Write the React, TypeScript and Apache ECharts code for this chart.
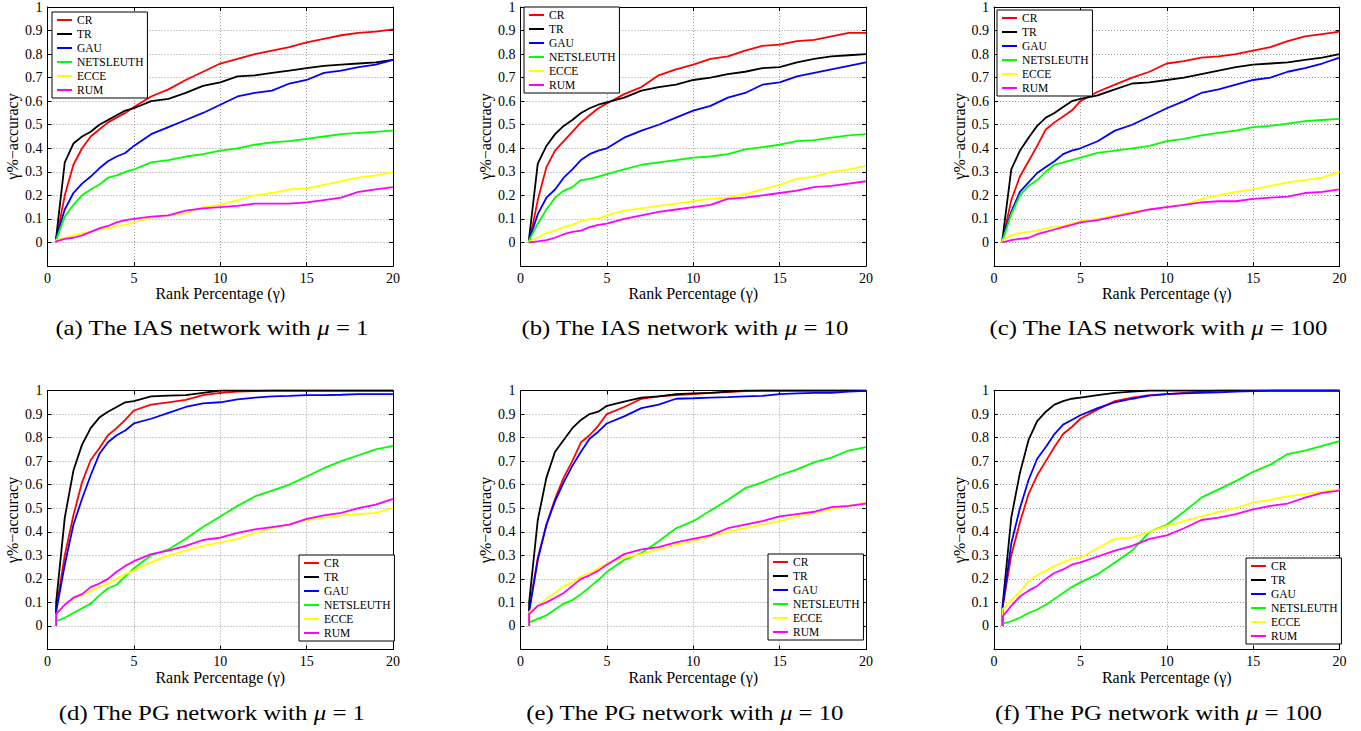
import React, { useEffect, useRef } from "react";
import * as echarts from "echarts";

// ---------- data ----------
const METHODS = ["CR", "TR", "GAU", "NETSLEUTH", "ECCE", "RUM"];
const COLORS = ["#ff0000", "#000000", "#0000ff", "#00ff00", "#ffff00", "#ff00ff"];
const X_TICKS = [0, 5, 10, 15, 20];
const Y_TICKS = [0, 0.1, 0.2, 0.3, 0.4, 0.5, 0.6, 0.7, 0.8, 0.9, 1];

// rank percentage (γ) sample points
const RANK_PCT = [0.5, 0.5, 1, 1.5, 2, 2.5, 3, 3.5, 4, 4.5, 5, 6, 7, 8, 9, 10, 11, 12, 13, 14, 15, 16, 17, 18, 19, 20];

// (a) IAS, mu = 1
const IAS1_CR = [0, 0.01, 0.2, 0.33, 0.40, 0.45, 0.48, 0.51, 0.53, 0.55, 0.575, 0.62, 0.65, 0.69, 0.725, 0.76, 0.78, 0.80, 0.815, 0.83, 0.85, 0.865, 0.88, 0.89, 0.895, 0.905];
const IAS1_TR = [0, 0.02, 0.34, 0.42, 0.45, 0.47, 0.50, 0.52, 0.54, 0.56, 0.57, 0.60, 0.61, 0.635, 0.665, 0.68, 0.705, 0.71, 0.72, 0.73, 0.74, 0.75, 0.755, 0.76, 0.765, 0.775];
const IAS1_GAU = [0, 0.02, 0.14, 0.21, 0.25, 0.28, 0.315, 0.345, 0.365, 0.38, 0.41, 0.46, 0.49, 0.52, 0.55, 0.585, 0.62, 0.635, 0.645, 0.675, 0.69, 0.72, 0.73, 0.745, 0.755, 0.775];
const IAS1_NET = [0, 0.01, 0.11, 0.16, 0.20, 0.225, 0.245, 0.275, 0.285, 0.30, 0.31, 0.34, 0.35, 0.365, 0.375, 0.39, 0.40, 0.415, 0.425, 0.43, 0.44, 0.45, 0.46, 0.465, 0.47, 0.475];
const IAS1_ECCE = [0, 0.01, 0.02, 0.03, 0.04, 0.045, 0.055, 0.06, 0.07, 0.075, 0.085, 0.105, 0.115, 0.125, 0.15, 0.16, 0.18, 0.20, 0.21, 0.225, 0.23, 0.245, 0.26, 0.275, 0.285, 0.30];
const IAS1_RUM = [0, 0.005, 0.015, 0.02, 0.03, 0.045, 0.06, 0.07, 0.085, 0.095, 0.10, 0.11, 0.115, 0.135, 0.145, 0.15, 0.155, 0.165, 0.165, 0.165, 0.17, 0.18, 0.19, 0.215, 0.225, 0.235];

// (b) IAS, mu = 10
const IAS10_CR = [0, 0.0, 0.18, 0.32, 0.39, 0.43, 0.47, 0.51, 0.54, 0.57, 0.59, 0.63, 0.66, 0.71, 0.735, 0.755, 0.78, 0.79, 0.815, 0.835, 0.84, 0.855, 0.86, 0.875, 0.89, 0.89];
const IAS10_TR = [0, 0.02, 0.335, 0.41, 0.46, 0.495, 0.52, 0.55, 0.57, 0.585, 0.595, 0.615, 0.645, 0.66, 0.67, 0.69, 0.70, 0.715, 0.725, 0.74, 0.745, 0.765, 0.78, 0.79, 0.795, 0.80];
const IAS10_GAU = [0, 0.01, 0.12, 0.19, 0.225, 0.275, 0.31, 0.35, 0.375, 0.39, 0.40, 0.445, 0.475, 0.50, 0.53, 0.56, 0.58, 0.615, 0.635, 0.67, 0.68, 0.705, 0.72, 0.735, 0.75, 0.765];
const IAS10_NET = [0, 0.01, 0.08, 0.14, 0.19, 0.22, 0.235, 0.265, 0.27, 0.28, 0.29, 0.31, 0.33, 0.34, 0.35, 0.36, 0.365, 0.375, 0.395, 0.405, 0.415, 0.43, 0.435, 0.445, 0.455, 0.46];
const IAS10_ECCE = [0, 0.005, 0.02, 0.04, 0.05, 0.065, 0.075, 0.09, 0.10, 0.10, 0.115, 0.135, 0.145, 0.155, 0.165, 0.175, 0.185, 0.19, 0.205, 0.225, 0.245, 0.27, 0.28, 0.30, 0.31, 0.325];
const IAS10_RUM = [0, 0.0, 0.005, 0.01, 0.02, 0.035, 0.045, 0.05, 0.065, 0.075, 0.08, 0.10, 0.115, 0.13, 0.14, 0.15, 0.16, 0.185, 0.19, 0.20, 0.21, 0.22, 0.235, 0.24, 0.25, 0.26];

// (c) IAS, mu = 100
const IAS100_CR = [0, 0.01, 0.18, 0.28, 0.345, 0.41, 0.48, 0.51, 0.535, 0.56, 0.60, 0.64, 0.67, 0.70, 0.725, 0.76, 0.77, 0.785, 0.79, 0.80, 0.815, 0.83, 0.855, 0.875, 0.885, 0.895];
const IAS100_TR = [0, 0.02, 0.31, 0.39, 0.445, 0.495, 0.53, 0.55, 0.575, 0.60, 0.61, 0.625, 0.65, 0.675, 0.68, 0.69, 0.70, 0.715, 0.73, 0.745, 0.755, 0.76, 0.765, 0.775, 0.785, 0.80];
const IAS100_GAU = [0, 0.02, 0.13, 0.215, 0.255, 0.295, 0.32, 0.345, 0.375, 0.39, 0.40, 0.43, 0.475, 0.50, 0.535, 0.57, 0.60, 0.635, 0.65, 0.67, 0.69, 0.70, 0.725, 0.74, 0.76, 0.785];
const IAS100_NET = [0, 0.01, 0.12, 0.20, 0.24, 0.265, 0.30, 0.33, 0.34, 0.35, 0.36, 0.38, 0.39, 0.40, 0.41, 0.43, 0.44, 0.455, 0.465, 0.475, 0.49, 0.495, 0.505, 0.515, 0.52, 0.525];
const IAS100_ECCE = [0, 0.01, 0.03, 0.04, 0.045, 0.05, 0.06, 0.065, 0.07, 0.08, 0.09, 0.10, 0.115, 0.13, 0.14, 0.15, 0.16, 0.185, 0.20, 0.215, 0.225, 0.24, 0.255, 0.265, 0.275, 0.30];
const IAS100_RUM = [0, 0.0, 0.01, 0.015, 0.02, 0.035, 0.045, 0.055, 0.065, 0.075, 0.085, 0.095, 0.11, 0.125, 0.14, 0.15, 0.16, 0.17, 0.175, 0.175, 0.185, 0.19, 0.195, 0.21, 0.215, 0.225];

// (d) PG, mu = 1
const PG1_CR = [0, 0.07, 0.30, 0.47, 0.61, 0.705, 0.755, 0.81, 0.84, 0.875, 0.915, 0.94, 0.95, 0.96, 0.98, 0.99, 0.995, 0.997, 1, 1, 1, 1, 1, 1, 1, 1];
const PG1_TR = [0, 0.10, 0.46, 0.66, 0.77, 0.84, 0.885, 0.91, 0.93, 0.95, 0.955, 0.975, 0.978, 0.98, 0.99, 1, 1, 1, 1, 1, 1, 1, 1, 1, 1, 1];
const PG1_GAU = [0, 0.06, 0.26, 0.43, 0.54, 0.64, 0.73, 0.78, 0.81, 0.83, 0.86, 0.88, 0.905, 0.93, 0.945, 0.95, 0.962, 0.97, 0.975, 0.977, 0.98, 0.98, 0.982, 0.985, 0.985, 0.985];
const PG1_NET = [0, 0.02, 0.035, 0.055, 0.075, 0.095, 0.13, 0.16, 0.175, 0.21, 0.245, 0.30, 0.325, 0.37, 0.42, 0.465, 0.51, 0.55, 0.575, 0.60, 0.635, 0.67, 0.70, 0.725, 0.75, 0.765];
const PG1_ECCE = [0, 0.05, 0.09, 0.115, 0.13, 0.15, 0.165, 0.18, 0.20, 0.22, 0.235, 0.27, 0.30, 0.32, 0.34, 0.355, 0.37, 0.395, 0.415, 0.43, 0.45, 0.46, 0.47, 0.475, 0.48, 0.50];
const PG1_RUM = [0, 0.05, 0.09, 0.12, 0.135, 0.165, 0.18, 0.20, 0.23, 0.255, 0.275, 0.305, 0.32, 0.34, 0.365, 0.375, 0.395, 0.41, 0.42, 0.43, 0.455, 0.47, 0.48, 0.50, 0.515, 0.54];

// (e) PG, mu = 10
const PG10_CR = [0, 0.07, 0.29, 0.43, 0.54, 0.63, 0.70, 0.78, 0.81, 0.85, 0.90, 0.93, 0.965, 0.975, 0.98, 0.985, 0.99, 0.993, 0.997, 1, 1, 1, 1, 1, 1, 1];
const PG10_TR = [0, 0.10, 0.45, 0.63, 0.74, 0.79, 0.84, 0.875, 0.90, 0.91, 0.935, 0.953, 0.97, 0.975, 0.985, 0.988, 0.99, 0.995, 1, 1, 1, 1, 1, 1, 1, 1];
const PG10_GAU = [0, 0.06, 0.28, 0.43, 0.53, 0.61, 0.68, 0.74, 0.795, 0.825, 0.86, 0.89, 0.925, 0.94, 0.965, 0.967, 0.97, 0.972, 0.975, 0.977, 0.985, 0.988, 0.99, 0.99, 0.995, 0.998];
const PG10_NET = [0, 0.015, 0.03, 0.045, 0.07, 0.095, 0.11, 0.135, 0.165, 0.195, 0.23, 0.28, 0.31, 0.36, 0.415, 0.445, 0.49, 0.535, 0.585, 0.61, 0.64, 0.665, 0.695, 0.715, 0.745, 0.76];
const PG10_ECCE = [0, 0.06, 0.085, 0.115, 0.14, 0.17, 0.185, 0.21, 0.225, 0.245, 0.265, 0.29, 0.305, 0.325, 0.345, 0.36, 0.38, 0.40, 0.415, 0.43, 0.445, 0.465, 0.48, 0.495, 0.51, 0.525];
const PG10_RUM = [0, 0.05, 0.085, 0.10, 0.12, 0.14, 0.17, 0.20, 0.215, 0.235, 0.26, 0.305, 0.325, 0.335, 0.355, 0.37, 0.385, 0.415, 0.43, 0.445, 0.465, 0.475, 0.485, 0.505, 0.51, 0.52];

// (f) PG, mu = 100
const PG100_CR = [0, 0.08, 0.30, 0.44, 0.56, 0.64, 0.70, 0.76, 0.815, 0.845, 0.88, 0.92, 0.955, 0.97, 0.98, 0.985, 0.99, 0.995, 1, 1, 1, 1, 1, 1, 1, 1];
const PG100_TR = [0, 0.09, 0.46, 0.65, 0.79, 0.87, 0.91, 0.94, 0.955, 0.965, 0.97, 0.98, 0.99, 0.995, 1, 1, 1, 1, 1, 1, 1, 1, 1, 1, 1, 1];
const PG100_GAU = [0, 0.08, 0.35, 0.50, 0.62, 0.71, 0.76, 0.815, 0.855, 0.875, 0.895, 0.925, 0.95, 0.965, 0.978, 0.985, 0.988, 0.99, 0.992, 0.995, 0.997, 1, 1, 1, 1, 1];
const PG100_NET = [0, 0.01, 0.02, 0.035, 0.055, 0.07, 0.09, 0.115, 0.14, 0.165, 0.185, 0.22, 0.27, 0.32, 0.40, 0.43, 0.485, 0.545, 0.58, 0.615, 0.655, 0.685, 0.73, 0.745, 0.765, 0.785];
const PG100_ECCE = [0, 0.07, 0.11, 0.145, 0.19, 0.215, 0.235, 0.255, 0.27, 0.285, 0.29, 0.33, 0.37, 0.375, 0.40, 0.425, 0.445, 0.465, 0.485, 0.50, 0.525, 0.535, 0.55, 0.56, 0.57, 0.58];
const PG100_RUM = [0, 0.04, 0.085, 0.125, 0.15, 0.17, 0.20, 0.225, 0.24, 0.26, 0.27, 0.295, 0.32, 0.34, 0.37, 0.385, 0.415, 0.45, 0.46, 0.475, 0.495, 0.51, 0.52, 0.545, 0.565, 0.575];

const CAPTION_PREFIX = ["(a) The IAS network with ", "(b) The IAS network with ", "(c) The IAS network with ", "(d) The PG network with ", "(e) The PG network with ", "(f) The PG network with "];
const CAPTION_MU = ["1", "10", "100", "1", "10", "100"];

const PANEL_DATA = [
  [IAS1_CR, IAS1_TR, IAS1_GAU, IAS1_NET, IAS1_ECCE, IAS1_RUM],
  [IAS10_CR, IAS10_TR, IAS10_GAU, IAS10_NET, IAS10_ECCE, IAS10_RUM],
  [IAS100_CR, IAS100_TR, IAS100_GAU, IAS100_NET, IAS100_ECCE, IAS100_RUM],
  [PG1_CR, PG1_TR, PG1_GAU, PG1_NET, PG1_ECCE, PG1_RUM],
  [PG10_CR, PG10_TR, PG10_GAU, PG10_NET, PG10_ECCE, PG10_RUM],
  [PG100_CR, PG100_TR, PG100_GAU, PG100_NET, PG100_ECCE, PG100_RUM],
];

// ---------- layout ----------
const COL_LEFT = [47.5, 520.5, 994];
const ROW_TOP = [7, 390.5];
const PLOT_W = 345.5;
const PLOT_H = 259;
const LEGEND_POS = [
  { left: 52, top: 12 },
  { left: 524, top: 7 },
  { left: 997, top: 10 },
  { left: 299, top: 555 },
  { left: 768, top: 554 },
  { left: 1246, top: 558 },
];
const CAPTION_Y = [328, 713];
const SERIF = "Liberation Serif";

function buildOption() {
  const grids: any[] = [];
  const xAxes: any[] = [];
  const yAxes: any[] = [];
  const series: any[] = [];
  const legends: any[] = [];
  const graphics: any[] = [];

  for (let p = 0; p < 6; p++) {
    const col = p % 3;
    const row = Math.floor(p / 3);
    const left = COL_LEFT[col];
    const top = ROW_TOP[row];
    grids.push({ left, top, width: PLOT_W, height: PLOT_H, containLabel: false });

    const axisLine = { show: true, onZero: false, lineStyle: { color: "#000", width: 1 } };
    const axisTick = { show: true, inside: true, length: 4, lineStyle: { color: "#000", width: 1 } };
    const grid = { show: true, lineStyle: { color: "#9a9a9a", width: 1, type: [1, 2] } };

    xAxes.push({
      type: "value",
      gridIndex: p,
      position: "bottom",
      min: X_TICKS[0],
      max: X_TICKS[X_TICKS.length - 1],
      interval: X_TICKS[1] - X_TICKS[0],
      axisLine,
      axisTick,
      splitLine: grid,
      axisLabel: { color: "#000", fontFamily: SERIF, fontSize: 14, margin: 5, showMinLabel: true, showMaxLabel: true },
      name: "Rank Percentage (γ)",
      nameLocation: "middle",
      nameGap: 17,
      nameTextStyle: { color: "#000", fontFamily: SERIF, fontSize: 16 },
    });
    xAxes.push({
      type: "value",
      gridIndex: p,
      position: "top",
      min: X_TICKS[0],
      max: X_TICKS[X_TICKS.length - 1],
      interval: X_TICKS[1] - X_TICKS[0],
      axisLine,
      axisTick,
      splitLine: { show: false },
      axisLabel: { show: false },
    });
    yAxes.push({
      type: "value",
      gridIndex: p,
      position: "left",
      min: -0.1,
      max: Y_TICKS[Y_TICKS.length - 1],
      interval: 0.1,
      axisLine,
      axisTick,
      splitLine: grid,
      axisLabel: {
        color: "#000",
        fontFamily: SERIF,
        fontSize: 14,
        margin: 5,
        formatter: (v: number) => {
          const r = Math.round(v * 10) / 10;
          return Y_TICKS.some((t) => Math.abs(t - r) < 1e-6) ? String(r) : "";
        },
      },
      name: "γ%−accuracy",
      nameLocation: "middle",
      nameGap: 27,
      nameTextStyle: { color: "#000", fontFamily: SERIF, fontSize: 16 },
    });
    yAxes.push({
      type: "value",
      gridIndex: p,
      position: "right",
      min: -0.1,
      max: Y_TICKS[Y_TICKS.length - 1],
      interval: 0.1,
      axisLine,
      axisTick,
      splitLine: { show: false },
      axisLabel: { show: false },
    });

    PANEL_DATA[p].forEach((vals, m) => {
      series.push({
        type: "line",
        name: METHODS[m],
        xAxisIndex: 2 * p,
        yAxisIndex: 2 * p,
        data: RANK_PCT.map((x, i) => [x, vals[i]]),
        showSymbol: false,
        symbol: "none",
        lineStyle: { color: COLORS[m], width: 1.8 },
        itemStyle: { color: COLORS[m] },
        z: 2,
      });
    });

    legends.push({
      left: LEGEND_POS[p].left,
      top: LEGEND_POS[p].top,
      orient: "vertical",
      icon: "rect",
      itemWidth: 15,
      itemHeight: 2,
      itemGap: 0,
      padding: [1, 4, 1, 5],
      borderColor: "#000",
      borderWidth: 1,
      backgroundColor: "#fff",
      selectedMode: false,
      textStyle: { color: "#000", fontFamily: SERIF, fontSize: 11.5, lineHeight: 14 },
      data: METHODS,
      z: 10,
    });

    graphics.push({
      type: "text",
      x: left + PLOT_W / 2 - 8.5,
      y: CAPTION_Y[row],
      scaleX: 1.18,
      style: {
        text: CAPTION_PREFIX[p] + "{i|μ} = " + CAPTION_MU[p],
        fontFamily: SERIF,
        fontSize: 21,
        fill: "#000",
        align: "center",
        verticalAlign: "middle",
        rich: {
          i: { fontStyle: "italic", fontFamily: SERIF, fontSize: 21, fill: "#000" },
        },
      },
    });
  }

  return {
    animation: false,
    backgroundColor: "#fff",
    grid: grids,
    xAxis: xAxes,
    yAxis: yAxes,
    legend: legends,
    series,
    graphic: graphics,
  };
}

export default function App() {
  const ref = useRef<HTMLDivElement>(null);
  useEffect(() => {
    if (!ref.current) return;
    const chart = echarts.init(ref.current, undefined, { renderer: "svg" });
    chart.setOption(buildOption() as any);
    return () => chart.dispose();
  }, []);
  return (
    <div
      ref={ref}
      style={{ position: "absolute", left: 0, top: 0, width: 1361, height: 731, background: "#fff" }}
    />
  );
}
